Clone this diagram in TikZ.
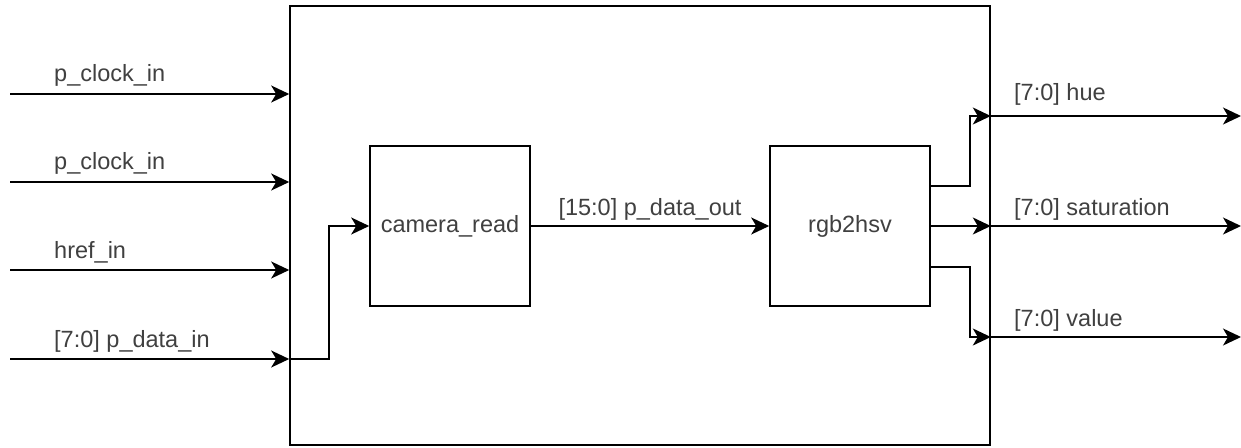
\documentclass[tikz,border=0pt]{standalone}
\usepackage{fontspec}
\setmainfont{Liberation Sans}
\usetikzlibrary{arrows.meta,calc}
\definecolor{txt}{HTML}{404040}
\tikzset{
  box/.style={draw=black, line width=1.6pt, minimum width=160pt, minimum height=160pt, inner sep=0pt, font=\fontsize{23.5}{28}\selectfont, text=txt},
  lbl/.style={font=\fontsize{23.5}{28}\selectfont, text=txt, inner sep=0pt},
  wire/.style={line width=1.6pt, -{Stealth[length=18pt,width=17pt,inset=5pt]}},
  plain/.style={line width=1.6pt}
}
\begin{document}
\begin{tikzpicture}[x=1pt,y=-1pt]
\useasboundingbox (0,0) rectangle (1241,447);
% outer box
\node[box, minimum width=700pt, minimum height=439pt] (top) at (640,225.5) {};
\node[box] (cam) at (450,226) {camera\_read};
\node[box] (rgb) at (850,226) {rgb2hsv};
% inputs
\coordinate (i1) at (10,94);
\coordinate (i2) at (10,182);
\coordinate (i3) at (10,270);
\coordinate (i4) at (10,359);
\draw[wire] (i1) -- (i1 -| top.west);
\draw[wire] (i2) -- (i2 -| top.west);
\draw[wire] (i3) -- (i3 -| top.west);
\draw[wire] (i4) -- (i4 -| top.west);
\coordinate (j4) at (i4 -| top.west);
\draw[wire] (j4) -- ++(40,0) |- (cam.west);
\node[lbl, anchor=base west] (l1) at (54,81) {p\_clock\_in};
\node[lbl, anchor=base west] (l2) at (54,169) {p\_clock\_in};
\node[lbl, anchor=base west] (l3) at (54,258) {href\_in};
\node[lbl, anchor=base west] (l4) at (54,347) {[7:0] p\_data\_in};
% middle
\draw[wire] (cam.east) -- (rgb.west);
\node[lbl, anchor=base] (l5) at (650,215) {[15:0] p\_data\_out};
% outputs
\coordinate (o1) at (990,116);
\coordinate (o2) at (990,226);
\coordinate (o3) at (990,337);
\coordinate (r1) at (rgb.east |- 0,186);
\coordinate (r3) at (rgb.east |- 0,267);
\draw[wire] (r1) -- (970,186) |- (o1 -| top.east);
\draw[wire] (rgb.east) -- (o2 -| top.east);
\draw[wire] (r3) -- (970,267) |- (o3 -| top.east);
\coordinate (e1) at (1241,116);
\coordinate (e2) at (1241,226);
\coordinate (e3) at (1241,337);
\draw[wire] (o1 -| top.east) -- (e1);
\draw[wire] (o2 -| top.east) -- (e2);
\draw[wire] (o3 -| top.east) -- (e3);
\node[lbl, anchor=base west] (l6) at (1014,100) {[7:0] hue};
\node[lbl, anchor=base west] (l7) at (1014,215) {[7:0] saturation};
\node[lbl, anchor=base west] (l8) at (1014,326) {[7:0] value};
\end{tikzpicture}
\end{document}
